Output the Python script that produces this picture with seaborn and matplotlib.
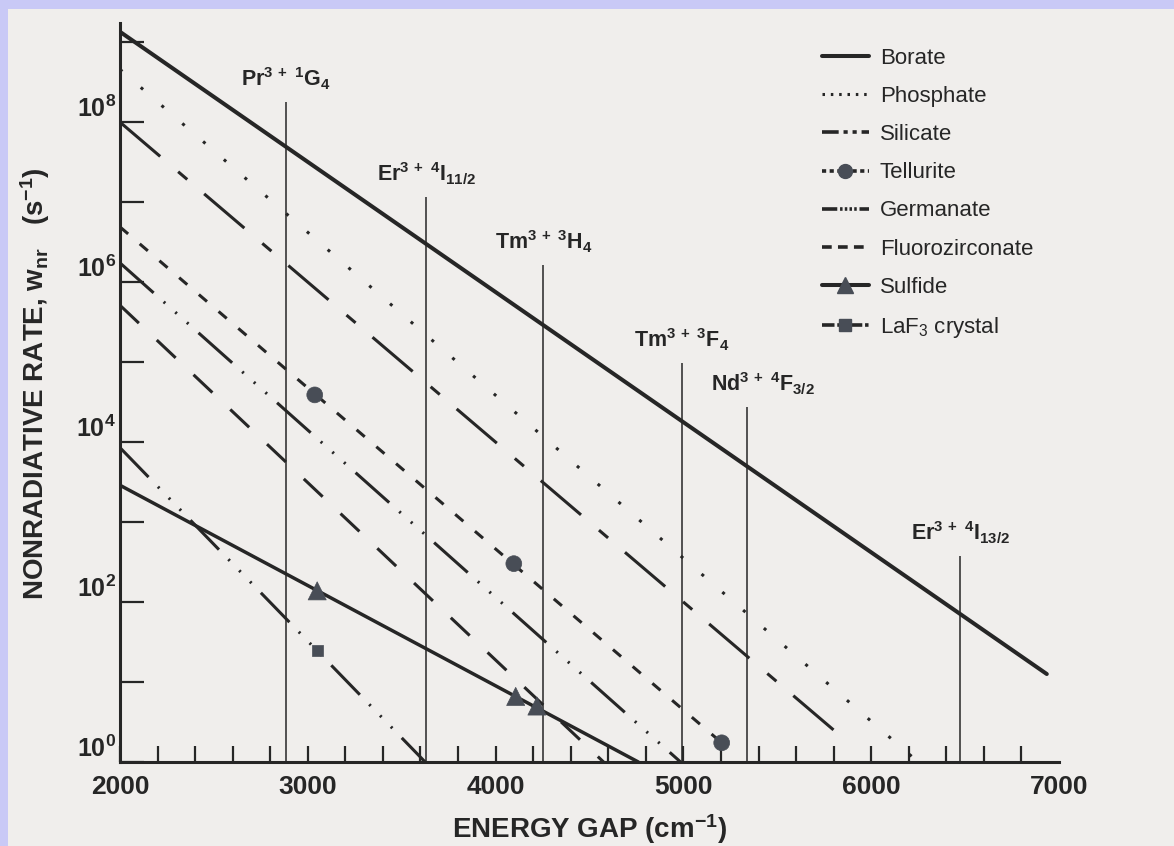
# ============================================
# TASA NO RADIATIVA vs ENERGY GAP (escala log)
# ============================================

import numpy as np
import pandas as pd
import matplotlib
matplotlib.use('Agg')
import matplotlib.pyplot as plt
from matplotlib.lines import Line2D
from matplotlib.patches import Rectangle
from matplotlib.ticker import FixedLocator, NullFormatter, FuncFormatter
import seaborn as sns

# 1. DATOS
# ==============================
vidrios = ['Borate', 'Phosphate', 'Silicate', 'Tellurite', 'Germanate',
           'Fluorozirconate', 'Sulfide', 'LaF3 crystal']
gap_inicio = [2000, 2000, 2000, 2000, 2000, 2000, 2000, 2000]
gap_fin = [6935, 6250, 5870, 5204, 4985, 4575, 4760, 3625]
log_tasa_inicio = [9.13, 8.66, 8.00, 6.69, 6.24, 5.71, 3.46, 3.93]
log_tasa_fin = [1.10, 0.00, 0.26, 0.24, 0.00, 0.00, 0.00, 0.00]

# puntos medidos (marcadores)
punto_vidrio = ['Tellurite', 'Tellurite', 'Tellurite', 'Sulfide', 'Sulfide', 'Sulfide',
                'LaF3 crystal']
punto_gap = [3037, 4097, 5204, 3050, 4107, 4220, 3050]
punto_log_tasa = [4.59, 2.48, 0.24, 2.14, 0.82, 0.70, 1.39]

# niveles de energia (lineas verticales)
niveles = [r'Pr$^{3\,+\ 1}$G$_{4}$', r'Er$^{3\,+\ 4}$I$_{11/2}$', r'Tm$^{3\,+\ 3}$H$_{4}$',
           r'Tm$^{3\,+\ 3}$F$_{4}$', r'Nd$^{3\,+\ 4}$F$_{3/2}$', r'Er$^{3\,+\ 4}$I$_{13/2}$']
nivel_gap = [2885, 3630, 4255, 4992, 5340, 6474]
nivel_log_tope = [8.25, 7.07, 6.22, 4.99, 4.44, 2.58]

etiquetas_x = [2000, 3000, 4000, 5000, 6000, 7000]
potencias_y = [0, 2, 4, 6, 8]

# 2. ESTILO
# =========
sns.set_style('ticks')
plt.rcParams['font.family'] = ['Liberation Sans', 'DejaVu Sans']
plt.rcParams['mathtext.default'] = 'regular'
plt.rcParams['lines.scale_dashes'] = False

tinta = '#262626'
marca = '#484d56'
papel = '#f0eeec'
lavanda = '#c9c9f6'

# patrones de trazo (en puntos)
trazos = {
    'Borate': '',
    'Phosphate': (2.2, 17.6),
    'Silicate': (38, 17, 8.6, 16),
    'Tellurite': (7.7, 11),
    'Germanate': (32.4, 9.7, 1.5, 9.7, 1.5, 9.7, 1.5, 9.7),
    'Fluorozirconate': (18.7, 17.7),
    'Sulfide': '',
    'LaF3 crystal': (29.5, 9.7, 1.5, 9.7, 1.5, 9.7, 1.5, 9.7),
}
grosores = {'Borate': 2.9, 'Phosphate': 2.2, 'Silicate': 2.2, 'Tellurite': 2.2,
            'Germanate': 2.2, 'Fluorozirconate': 2.2, 'Sulfide': 2.5, 'LaF3 crystal': 2.2}

# 3. TABLAS
# =========
tabla_lineas = pd.DataFrame({
    'vidrio': vidrios + vidrios,
    'gap': gap_inicio + gap_fin,
    'tasa': 10 ** np.array(log_tasa_inicio + log_tasa_fin),
})
tabla_puntos = pd.DataFrame({
    'vidrio': punto_vidrio,
    'gap': punto_gap,
    'tasa': 10 ** np.array(punto_log_tasa),
})

# 4. GRAFICO
# ==========
fig = plt.figure(figsize=(11.74, 8.46), dpi=100)
fig.patch.set_facecolor(papel)
fig.add_artist(Rectangle((0, 1 - 9 / 846), 1, 9 / 846, transform=fig.transFigure,
                         facecolor=lavanda, edgecolor='none', zorder=0))
fig.add_artist(Rectangle((0, 0), 8 / 1174, 1, transform=fig.transFigure,
                         facecolor=lavanda, edgecolor='none', zorder=0))

ax = fig.add_axes([120 / 1174, 84 / 846, 939 / 1174, 739 / 846])
ax.set_facecolor('none')
ax.set_yscale('log')

# lineas verticales de los niveles
ax.vlines(nivel_gap, 1, 10 ** np.array(nivel_log_tope), color=tinta, lw=1.1, zorder=1)

sns.lineplot(data=tabla_lineas, x='gap', y='tasa', hue='vidrio', style='vidrio', size='vidrio',
             palette={v: tinta for v in vidrios}, dashes=trazos, sizes=grosores,
             estimator=None, sort=False, legend=False, ax=ax, zorder=2)

sns.scatterplot(data=tabla_puntos, x='gap', y='tasa', style='vidrio', size='vidrio',
                markers={'Tellurite': 'o', 'Sulfide': '^', 'LaF3 crystal': 's'},
                sizes={'Tellurite': 130, 'Sulfide': 170, 'LaF3 crystal': 60},
                color=marca, edgecolor=marca, linewidth=0.5, legend=False, ax=ax, zorder=4)

# etiquetas de niveles
for texto, g, tope in zip(niveles, nivel_gap, nivel_log_tope):
    dx = 11 if texto.startswith('Nd') else 0
    ax.annotate(texto, xy=(g, 10 ** tope), xytext=(dx, 7), textcoords='offset points',
                ha='center', va='bottom', fontsize=15.5, fontweight='bold', color=tinta)

# 5. EJES
# =======
ax.set_xlim(2000, 7000)
ax.set_ylim(1, 10 ** 9.24)

ax.xaxis.set_major_locator(FixedLocator(etiquetas_x))
ax.xaxis.set_minor_locator(FixedLocator([e for e in range(2200, 7000, 200) if e % 1000]))
ax.xaxis.set_major_formatter(FuncFormatter(lambda v, p: '%d' % v))
ax.yaxis.set_major_locator(FixedLocator([10.0 ** k for k in potencias_y]))
ax.yaxis.set_minor_locator(FixedLocator([10.0 ** (k + 1) for k in potencias_y]))
ax.yaxis.set_major_formatter(FuncFormatter(lambda v, p: r'$10^{%d}$' % round(np.log10(v))))
ax.yaxis.set_minor_formatter(NullFormatter())

ax.tick_params(axis='both', which='both', direction='in', width=1.6, color=tinta,
               labelcolor=tinta)
ax.tick_params(axis='x', which='both', length=11.5, pad=9, labelsize=19)
ax.tick_params(axis='y', which='both', length=17, pad=3, labelsize=18)
for t in ax.get_xticklabels() + ax.get_yticklabels():
    t.set_fontweight('bold')
for tick in ax.yaxis.get_major_ticks():
    tick.label1.set_verticalalignment('bottom')
ax.xaxis.get_major_ticks()[-1].tick1line.set_visible(False)

sns.despine(ax=ax)
for lado in ['left', 'bottom']:
    ax.spines[lado].set_linewidth(2.2)
    ax.spines[lado].set_color(tinta)

ax.set_xlabel(r'ENERGY GAP (cm$^{-1}$)', fontsize=20, fontweight='bold', color=tinta)
ax.set_ylabel(r'NONRADIATIVE RATE, w$_{nr}$   (s$^{-1}$)', fontsize=20,
              fontweight='bold', color=tinta)
ax.xaxis.set_label_coords(0.5, -0.068)
ax.yaxis.set_label_coords(-0.072, 0.512)

# 6. LEYENDA
# ==========
manijas = [
    Line2D([], [], color=tinta, lw=2.9),
    Line2D([], [], color=tinta, lw=2.2, dashes=(1.8, 4.2)),
    Line2D([], [], color=tinta, lw=2.6, dashes=(12, 3.5, 3, 3.5, 3, 3.5)),
    Line2D([], [], color=tinta, lw=2.6, dashes=(3, 2.5), marker='o', ms=10,
           mfc=marca, mec=marca),
    Line2D([], [], color=tinta, lw=2.6, dashes=(11, 2, 1.8, 1.6, 1.8, 1.6, 1.8, 1.6, 1.8, 2)),
    Line2D([], [], color=tinta, lw=2.6, dashes=(7, 4.5)),
    Line2D([], [], color=tinta, lw=2.9, marker='^', ms=12, mfc=marca, mec=marca),
    Line2D([], [], color=tinta, lw=2.6, dashes=(9, 2, 2.5, 2, 2.5, 2), marker='s', ms=8,
           mfc=marca, mec=marca),
]
nombres = ['Borate', 'Phosphate', 'Silicate', 'Tellurite', 'Germanate',
           'Fluorozirconate', 'Sulfide', r'LaF$_3$ crystal']
fig.legend(manijas, nombres, loc='upper left', bbox_to_anchor=(822 / 1174, 1 - 48 / 846),
           bbox_transform=fig.transFigure, frameon=False, fontsize=16, numpoints=1,
           handlelength=2.1, handletextpad=0.5, labelspacing=0.77, borderpad=0,
           borderaxespad=0, labelcolor=tinta)

fig.savefig('out.png', dpi=100, facecolor=fig.get_facecolor())
print("Grafico guardado en out.png")
